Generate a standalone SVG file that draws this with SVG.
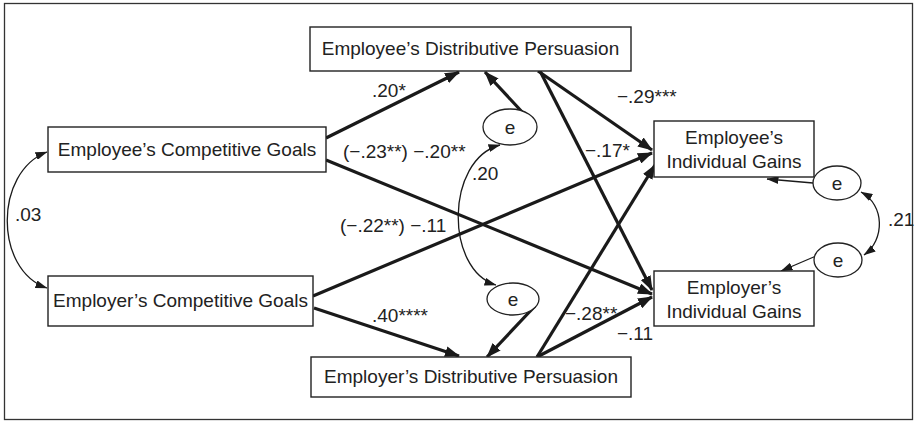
<svg xmlns="http://www.w3.org/2000/svg" width="915" height="422" viewBox="0 0 915 422">
<style>
  .box { fill: #ffffff; stroke: #222; stroke-width: 1.4; }
  .ell { fill: #ffffff; stroke: #222; stroke-width: 1.3; }
  .t { font-family: "Liberation Sans", Arial, sans-serif; font-size: 19px; fill: #222; text-anchor: middle; }
  .lb { font-family: "Liberation Sans", Arial, sans-serif; font-size: 19px; fill: #222; }
  .thick { fill: none; stroke: #1a1a1a; stroke-width: 3.2; marker-end: url(#ah); }
  .thin { fill: none; stroke: #1a1a1a; stroke-width: 1.3; marker-end: url(#at); }
  .dbl { fill: none; stroke: #1a1a1a; stroke-width: 1.3; marker-start: url(#at); marker-end: url(#at); }
</style>
<defs>
  <marker id="ah" viewBox="0 0 15 11" refX="14" refY="5.5" markerWidth="15" markerHeight="11" markerUnits="userSpaceOnUse" orient="auto">
    <path d="M0,0 L15,5.5 L0,11 z" fill="#1a1a1a"/>
  </marker>
  <marker id="at" viewBox="0 0 12 8" refX="11.5" refY="4" markerWidth="12" markerHeight="8" markerUnits="userSpaceOnUse" orient="auto-start-reverse">
    <path d="M0,0 L12,4 L0,8 z" fill="#1a1a1a"/>
  </marker>
</defs>
<rect x="0" y="0" width="915" height="422" fill="#ffffff"/>
<rect x="4.5" y="3.5" width="908" height="416" fill="none" stroke="#333" stroke-width="1.3"/>

<g id="connectors">
  <path class="thick" d="M326,138 L459,72"/>
  <path class="thick" d="M326,160 L652,294"/>
  <path class="thick" d="M313,296 L652,153"/>
  <path class="thick" d="M314,308 L459,356"/>
  <path class="thick" d="M538,71 L652,150"/>
  <path class="thick" d="M540,71 L652,290"/>
  <path class="thick" d="M537,357 L655,165"/>
  <path class="thick" d="M537,357 L652,297"/>
  <path class="thick" d="M524,114 L485,72"/>
  <path class="thick" d="M535,306 L487,357"/>
  <path class="thin" d="M813,183 L767,179"/>
  <path class="thin" d="M816,256 L781,271"/>
  <path class="dbl" d="M47,152 C-6,172 -6,270 47,288"/>
  <path class="dbl" d="M500,145 C445,160 445,270 496,285"/>
  <path class="dbl" d="M861,192 C885,205 885,240 864,255"/>
</g>

<g id="n_edp">
  <rect class="box" x="310" y="27" width="321" height="44"/>
  <text class="t" x="470.5" y="55">Employee’s Distributive Persuasion</text>
</g>
<g id="n_ecg">
  <rect class="box" x="48" y="127" width="278" height="45"/>
  <text class="t" x="187" y="156">Employee’s Competitive Goals</text>
</g>
<g id="n_rcg">
  <rect class="box" x="48" y="276" width="265" height="50"/>
  <text class="t" x="180.5" y="307">Employer’s Competitive Goals</text>
</g>
<g id="n_rdp">
  <rect class="box" x="311" y="357" width="320" height="40"/>
  <text class="t" x="471" y="383">Employer’s Distributive Persuasion</text>
</g>
<g id="n_eig">
  <rect class="box" x="654" y="121" width="160" height="56"/>
  <text class="t" x="734" y="144">Employee’s</text>
  <text class="t" x="734" y="168">Individual Gains</text>
</g>
<g id="n_rig">
  <rect class="box" x="654" y="271" width="160" height="55"/>
  <text class="t" x="734" y="294">Employer’s</text>
  <text class="t" x="734" y="318">Individual Gains</text>
</g>
<g id="e1">
  <ellipse class="ell" cx="510" cy="127" rx="27" ry="18"/>
  <text class="t" x="510" y="134">e</text>
</g>
<g id="e2">
  <ellipse class="ell" cx="513" cy="299" rx="26" ry="16"/>
  <text class="t" x="513" y="306">e</text>
</g>
<g id="e3">
  <ellipse class="ell" cx="837" cy="183" rx="24" ry="17"/>
  <text class="t" x="837" y="190">e</text>
</g>
<g id="e4">
  <ellipse class="ell" cx="838" cy="260" rx="24" ry="17"/>
  <text class="t" x="838" y="267">e</text>
</g>

<g id="labels">
  <text class="lb" x="372" y="97">.20*</text>
  <text class="lb" x="343" y="158">(−.23**) −.20**</text>
  <text class="lb" x="340" y="232">(−.22**) −.11</text>
  <text class="lb" x="15" y="221">.03</text>
  <text class="lb" x="472" y="180">.20</text>
  <text class="lb" x="585" y="157">−.17*</text>
  <text class="lb" x="617" y="103">−.29***</text>
  <text class="lb" x="888" y="226">.21</text>
  <text class="lb" x="565" y="320">−.28**</text>
  <text class="lb" x="617" y="340">−.11</text>
  <text class="lb" x="372" y="322">.40****</text>
</g>
</svg>
